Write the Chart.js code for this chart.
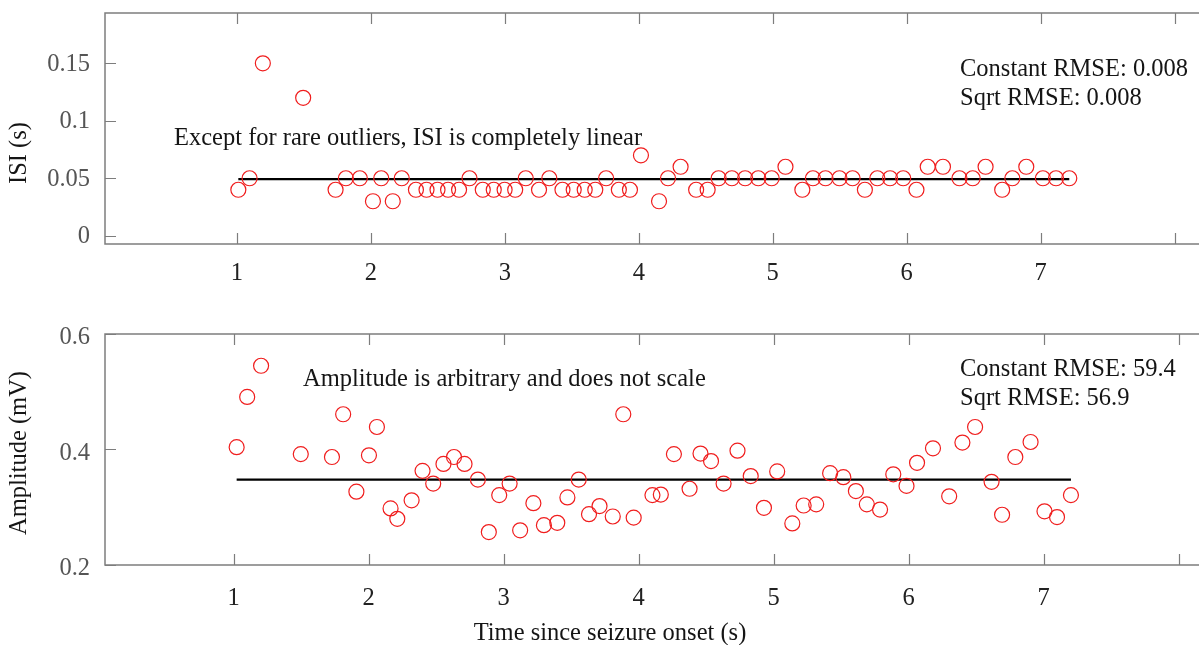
<!DOCTYPE html>
<html>
<head>
<meta charset="utf-8">
<script src="https://cdn.jsdelivr.net/npm/chart.js@4.4.1/dist/chart.umd.min.js"></script>
<style>
  html, body { margin: 0; padding: 0; background: #fff; overflow: hidden; width: 1199px; height: 645px; }
  canvas { position: absolute; left: 0; }
  #isiChart { top: 0; }
  #ampChart { top: 320px; }
</style>
</head>
<body>
<canvas id="isiChart" width="1260" height="300"></canvas>
<canvas id="ampChart" width="1260" height="325"></canvas>
<script>
// spike times (s) and ISI (s)
const isiTime = [
  1.010, 1.094, 1.193, 1.494, 1.736, 1.813, 1.917, 2.015, 2.077, 2.163,
  2.230, 2.336, 2.415, 2.497, 2.576, 2.658, 2.736, 2.835, 2.917, 2.998,
  3.077, 3.156, 3.255, 3.332, 3.430, 3.514, 3.596, 3.675, 3.756, 3.851,
  3.934, 4.016, 4.151, 4.218, 4.312, 4.428, 4.514, 4.596, 4.695, 4.794,
  4.892, 4.992, 5.095, 5.221, 5.300, 5.394, 5.498, 5.596, 5.688, 5.781,
  5.876, 5.974, 6.073, 6.157, 6.271, 6.394, 6.493, 6.589, 6.713, 6.789,
  6.893, 7.017, 7.115, 7.214
];
const isiValue = [
  0.04, 0.05, 0.15, 0.12, 0.04, 0.05, 0.05, 0.03, 0.05, 0.03,
  0.05, 0.04, 0.04, 0.04, 0.04, 0.04, 0.05, 0.04, 0.04, 0.04,
  0.04, 0.05, 0.04, 0.05, 0.04, 0.04, 0.04, 0.04, 0.05, 0.04,
  0.04, 0.07, 0.03, 0.05, 0.06, 0.04, 0.04, 0.05, 0.05, 0.05,
  0.05, 0.05, 0.06, 0.04, 0.05, 0.05, 0.05, 0.05, 0.04, 0.05,
  0.05, 0.05, 0.04, 0.06, 0.06, 0.05, 0.05, 0.06, 0.04, 0.05,
  0.06, 0.05, 0.05, 0.05
];
const isiFit = 0.0493;

// spike times (s) and amplitude (mV)
const ampTime = [
  1.023, 1.101, 1.204, 1.498, 1.729, 1.812, 1.910, 2.003, 2.062, 2.163,
  2.213, 2.319, 2.400, 2.479, 2.555, 2.633, 2.711, 2.810, 2.891, 2.968,
  3.045, 3.123, 3.221, 3.299, 3.398, 3.473, 3.557, 3.633, 3.711, 3.809,
  3.887, 3.964, 4.103, 4.165, 4.262, 4.378, 4.459, 4.537, 4.630, 4.733,
  4.831, 4.929, 5.027, 5.139, 5.223, 5.316, 5.419, 5.517, 5.610, 5.691,
  5.789, 5.887, 5.985, 6.063, 6.181, 6.301, 6.399, 6.493, 6.615, 6.693,
  6.791, 6.904, 7.007, 7.100, 7.203
];
const ampValue = [
  0.404, 0.491, 0.545, 0.392, 0.387, 0.461, 0.327, 0.390, 0.439, 0.298,
  0.280, 0.312, 0.363, 0.341, 0.375, 0.387, 0.375, 0.348, 0.257, 0.321,
  0.341, 0.260, 0.307, 0.269, 0.273, 0.317, 0.348, 0.288, 0.302, 0.284,
  0.461, 0.282, 0.321, 0.322, 0.392, 0.332, 0.393, 0.380, 0.341, 0.398,
  0.354, 0.299, 0.362, 0.272, 0.303, 0.305, 0.359, 0.352, 0.328, 0.305,
  0.296, 0.357, 0.337, 0.377, 0.402, 0.319, 0.412, 0.439, 0.344, 0.287,
  0.387, 0.413, 0.293, 0.283, 0.321
];
const ampFit = 0.348;

const xTickValues = [1, 2, 3, 4, 5, 6, 7, 8];
const xTickLabels = ['1', '2', '3', '4', '5', '6', '7', ''];
const isiTickValues = [0, 0.05, 0.1, 0.15];
const isiTickLabels = ['0', '0.05', '0.1', '0.15'];
const ampTickValues = [0.2, 0.4, 0.6];
const ampTickLabels = ['0.2', '0.4', '0.6'];

const FONT = '"Liberation Serif", "Times New Roman", serif';
const FONT_SIZE = 24.5;

// box, inward ticks and the text notes (MATLAB look)
function makeFrame(cfg) {
  return {
    id: 'frame_' + cfg.name,
    afterDraw(chart) {
      const { ctx, chartArea: a, scales } = chart;
      ctx.save();
      ctx.strokeStyle = '#7d7d7d';
      ctx.lineWidth = 1.5;
      ctx.strokeRect(a.left, a.top, a.right - a.left + 40, a.bottom - a.top);

      ctx.lineWidth = 1.2;
      ctx.beginPath();
      xTickValues.forEach(v => {
        const px = Math.round(scales.x.getPixelForValue(v)) + 0.5;
        ctx.moveTo(px, a.bottom); ctx.lineTo(px, a.bottom - 11);
        ctx.moveTo(px, a.top); ctx.lineTo(px, a.top + 11);
      });
      cfg.yTicks.forEach(v => {
        const py = Math.round(scales.y.getPixelForValue(v)) + 0.5;
        ctx.moveTo(a.left, py); ctx.lineTo(a.left + 11, py);
      });
      ctx.stroke();

      ctx.fillStyle = '#151515';
      ctx.font = FONT_SIZE + 'px ' + FONT;
      ctx.textBaseline = 'alphabetic';
      ctx.textAlign = 'left';
      cfg.notes.forEach(n => ctx.fillText(n.text, n.x, n.y));

      ctx.textAlign = 'center';
      if (cfg.xTitle) {
        ctx.fillText(cfg.xTitle.text, cfg.xTitle.x, cfg.xTitle.y);
      }
      ctx.translate(cfg.yTitle.x, cfg.yTitle.y);
      ctx.rotate(-Math.PI / 2);
      ctx.fillText(cfg.yTitle.text, 0, 0);
      ctx.restore();
    }
  };
}

function buildChart(id, opt) {
  const pts = opt.times.map((t, i) => ({ x: t, y: opt.values[i] }));
  const fitLine = [
    { x: opt.times[0], y: opt.fit },
    { x: opt.times[opt.times.length - 1], y: opt.fit }
  ];
  return new Chart(document.getElementById(id), {
    type: 'scatter',
    data: {
      datasets: [{
        data: pts,
        pointStyle: 'circle',
        pointRadius: 7.5,
        pointBorderWidth: 1.2,
        pointBorderColor: '#f01e1e',
        pointBackgroundColor: 'rgba(0,0,0,0)',
        showLine: false
      }, {
        type: 'line',
        data: fitLine,
        borderColor: '#000',
        borderWidth: 2.2,
        pointRadius: 0,
        fill: false
      }]
    },
    options: {
      responsive: false,
      animation: false,
      devicePixelRatio: 1,
      layout: { padding: { top: opt.padTop, left: 0, right: 0, bottom: 0 } },
      plugins: { legend: { display: false }, tooltip: { enabled: false } },
      scales: {
        x: {
          type: 'linear',
          min: opt.xMin,
          max: opt.xMax,
          grid: { display: false, drawTicks: false },
          border: { display: false },
          afterBuildTicks: s => { s.ticks = xTickValues.map(v => ({ value: v })); },
          afterFit: s => { s.height = opt.xAxisHeight; s.paddingLeft = 0; s.paddingRight = 0; },
          ticks: {
            autoSkip: false,
            maxRotation: 0,
            padding: opt.xPad,
            color: '#222',
            font: { family: FONT, size: FONT_SIZE },
            callback: v => xTickLabels[xTickValues.indexOf(v)]
          }
        },
        y: {
          type: 'linear',
          min: opt.yMin,
          max: opt.yMax,
          grid: { display: false, drawTicks: false },
          border: { display: false },
          afterBuildTicks: s => { s.ticks = opt.yTicks.map(v => ({ value: v })); },
          afterFit: s => { s.width = 105; s.paddingTop = 0; s.paddingBottom = 0; },
          ticks: {
            autoSkip: false,
            padding: 15,
            labelOffset: opt.yLabelShift,
            color: '#555',
            font: { family: FONT, size: FONT_SIZE },
            callback: v => opt.yLabels[opt.yTicks.indexOf(v)]
          }
        }
      }
    },
    plugins: [makeFrame({
      name: id,
      yTicks: opt.yTicks,
      notes: opt.notes,
      xTitle: opt.xTitle,
      yTitle: opt.yTitle
    })]
  });
}

buildChart('isiChart', {
  times: isiTime, values: isiValue, fit: isiFit,
  xMin: 0.0145, xMax: 8.573, yMin: -0.0072, yMax: 0.1938,
  padTop: 13, xAxisHeight: 56, xPad: 15, yLabelShift: 1,
  yTicks: isiTickValues, yLabels: isiTickLabels,
  notes: [
    { text: 'Except for rare outliers, ISI is completely linear', x: 174, y: 145 },
    { text: 'Constant RMSE: 0.008', x: 960, y: 76 },
    { text: 'Sqrt RMSE: 0.008', x: 960, y: 105 }
  ],
  yTitle: { text: 'ISI (s)', x: 26, y: 153 }
});

buildChart('ampChart', {
  times: ampTime, values: ampValue, fit: ampFit,
  xMin: 0.0478, xMax: 8.539, yMin: 0.2, yMax: 0.6,
  padTop: 14, xAxisHeight: 80, xPad: 19, yLabelShift: 4,
  yTicks: ampTickValues, yLabels: ampTickLabels,
  notes: [
    { text: 'Amplitude is arbitrary and does not scale', x: 303, y: 66 },
    { text: 'Constant RMSE: 59.4', x: 960, y: 56 },
    { text: 'Sqrt RMSE: 56.9', x: 960, y: 85 }
  ],
  xTitle: { text: 'Time since seizure onset (s)', x: 610, y: 320 },
  yTitle: { text: 'Amplitude (mV)', x: 26, y: 133 }
});
</script>
</body>
</html>
